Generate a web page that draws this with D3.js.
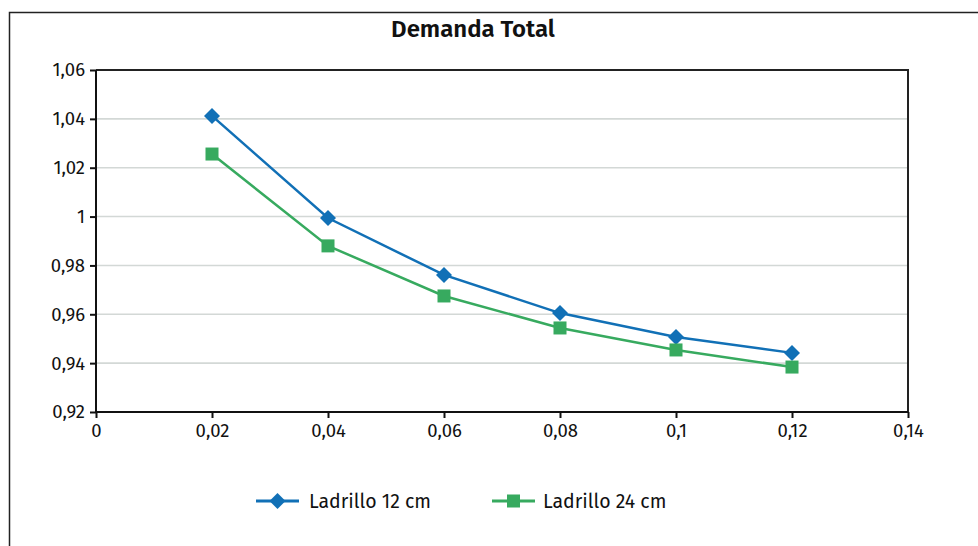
<!DOCTYPE html>
<html>
<head>
<meta charset="utf-8">
<script src="https://cdn.jsdelivr.net/npm/d3@7"></script>
<style>
  html, body { margin: 0; padding: 0; background: #fff; }
  svg { display: block; font-family: "Fira Sans", "Open Sans", "Noto Sans", sans-serif; }
</style>
</head>
<body>
<svg id="chart" width="978" height="546"></svg>
<script>
// Data
const xValues = [0.02, 0.04, 0.06, 0.08, 0.1, 0.12];
const ladrillo12 = [1.0412, 0.9994, 0.9761, 0.9605, 0.9507, 0.9442];
const ladrillo24 = [1.0256, 0.9880, 0.9675, 0.9544, 0.9454, 0.9384];
const xTicks = [0, 0.02, 0.04, 0.06, 0.08, 0.1, 0.12, 0.14];
const yTicks = [0.92, 0.94, 0.96, 0.98, 1, 1.02, 1.04, 1.06];
const seriesNames = ["Ladrillo 12 cm", "Ladrillo 24 cm"];
const seriesColors = ["#1170b6", "#37aa5f"];

const svg = d3.select("#chart");
const W = 978, H = 546;
const plot = { left: 96, right: 908, top: 70, bottom: 412 };

const fmt = v => String(+v.toFixed(2)).replace(".", ",");

const x = d3.scaleLinear().domain([0, 0.14]).range([plot.left, plot.right]);
const y = d3.scaleLinear().domain([0.92, 1.06]).range([plot.bottom, plot.top]);

// Outer chart frame (left and top edges)
svg.append("path")
  .attr("d", `M9.5,${H} V12.5 H${W}`)
  .attr("fill", "none").attr("stroke", "#222").attr("stroke-width", 1.5);

// Title
svg.append("text")
  .attr("x", 473).attr("y", 37)
  .attr("text-anchor", "middle")
  .attr("font-size", 24).attr("font-weight", "600").attr("fill", "#111")
  .text("Demanda Total");

// Horizontal gridlines
svg.append("g")
  .selectAll("line")
  .data(yTicks.filter(v => v > 0.92 && v < 1.06))
  .join("line")
  .attr("x1", plot.left).attr("x2", plot.right)
  .attr("y1", d => y(d)).attr("y2", d => y(d))
  .attr("stroke", "#d3d8d6").attr("stroke-width", 1.6);

// Plot frame: top and right edges
svg.append("path")
  .attr("d", `M${plot.left},${plot.top} H${plot.right} V${plot.bottom}`)
  .attr("fill", "none").attr("stroke", "#222").attr("stroke-width", 2);

// Axes
const yAxis = d3.axisLeft(y).tickValues(yTicks).tickFormat(fmt).tickSize(6).tickPadding(5);
const xAxis = d3.axisBottom(x).tickValues(xTicks).tickFormat(fmt).tickSize(6).tickPadding(6);

const gy = svg.append("g").attr("transform", `translate(${plot.left},0)`).call(yAxis);
const gx = svg.append("g").attr("transform", `translate(0,${plot.bottom})`).call(xAxis);
[gx, gy].forEach(g => {
  g.select(".domain").attr("stroke", "#111").attr("stroke-width", 2);
  g.selectAll(".tick line").attr("stroke", "#111").attr("stroke-width", 2);
  g.selectAll(".tick text").attr("font-size", 18.5).attr("fill", "#111")
    .attr("font-family", "\"Fira Sans\", \"Open Sans\", \"Noto Sans\", sans-serif");
});
gy.select(".domain").attr("d", `M0,${plot.bottom}V${plot.top}`);
gx.select(".domain").attr("d", `M${plot.left},0H${plot.right}`);

// Series
const line = d3.line().x((d, i) => x(xValues[i])).y(d => y(d));
const allSeries = [ladrillo12, ladrillo24];

function drawMarker(g, kind, color) {
  if (kind === 0) {
    g.append("path").attr("d", "M0,-8 L8,0 L0,8 L-8,0 Z").attr("fill", color);
  } else {
    g.append("rect").attr("x", -6.5).attr("y", -6.5).attr("width", 13).attr("height", 13).attr("fill", color);
  }
}

allSeries.forEach((vals, s) => {
  svg.append("path")
    .datum(vals)
    .attr("d", line)
    .attr("fill", "none")
    .attr("stroke", seriesColors[s])
    .attr("stroke-width", 2.5);
  vals.forEach((v, i) => {
    const g = svg.append("g").attr("transform", `translate(${x(xValues[i])},${y(v)})`);
    drawMarker(g, s, seriesColors[s]);
  });
});

// Legend
const legendItems = [
  { lx: 256, tx: 309 },
  { lx: 492, tx: 543 }
];
legendItems.forEach((it, s) => {
  const g = svg.append("g");
  g.append("line")
    .attr("x1", it.lx).attr("x2", it.lx + 43)
    .attr("y1", 501).attr("y2", 501)
    .attr("stroke", seriesColors[s]).attr("stroke-width", 3);
  const m = g.append("g").attr("transform", `translate(${it.lx + 21.5},501)`);
  drawMarker(m, s, seriesColors[s]);
  g.append("text")
    .attr("x", it.tx).attr("y", 508)
    .attr("font-size", 19.5).attr("fill", "#111")
    .text(seriesNames[s]);
});
</script>
</body>
</html>
